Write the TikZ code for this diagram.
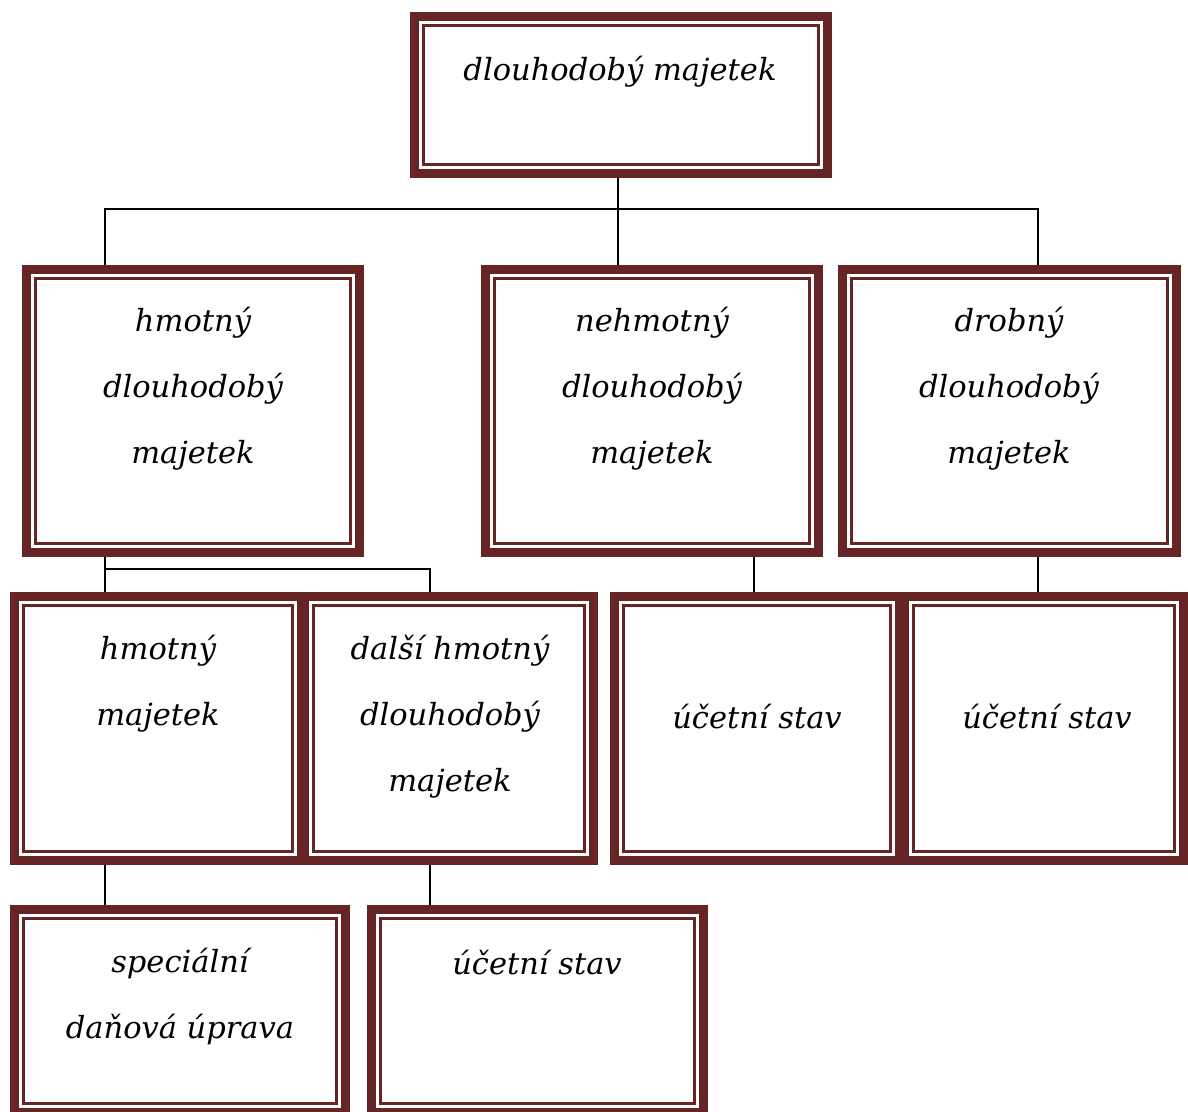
\documentclass[tikz,border=0pt]{standalone}
\usepackage{fontspec}
\setmainfont{DejaVu Serif}
\definecolor{boxred}{RGB}{102,36,36}
\begin{document}
\begin{tikzpicture}[x=1pt,y=-1pt,
  orgbox/.style={draw=boxred, line width=9pt, fill=white, rectangle, inner sep=0pt,
    path picture={\draw[boxred, line width=3pt]
      ([shift={(9pt,-9pt)}]path picture bounding box.north west) rectangle
      ([shift={(-9pt,9pt)}]path picture bounding box.south east);}},
  lbl/.style={font=\fontsize{30.5}{66}\selectfont\itshape, align=center, text=black},
  conn/.style={draw=black, line width=1.4pt}]
\useasboundingbox (0,0) rectangle (1188,1111);
\fill[white] (0,0) rectangle (1188,1111);
% junction coordinates
\coordinate (m1) at (618,209);
\coordinate (h1) at (105,209);
\coordinate (h2) at (1038,209);
\coordinate (c1) at (105,569);
\coordinate (c2) at (430,569);
\coordinate (d1) at (754,575);
\coordinate (d2) at (1038,575);
\coordinate (e1) at (105,885);
\coordinate (e2) at (430,885);
% boxes (placed first invisibly for names)
\path (621,95) node[minimum width=413pt, minimum height=157pt] (b1) {};
\path (193,411) node[minimum width=333pt, minimum height=283pt] (b2) {};
\path (652,411) node[minimum width=333pt, minimum height=283pt] (b3) {};
\path (1009.5,411) node[minimum width=334pt, minimum height=283pt] (b4) {};
\path (158,728.5) node[minimum width=287pt, minimum height=264pt] (b5) {};
\path (449,728.5) node[minimum width=289pt, minimum height=264pt] (b6) {};
\path (757,728.5) node[minimum width=285pt, minimum height=264pt] (b7) {};
\path (1044,728.5) node[minimum width=279pt, minimum height=264pt] (b8) {};
\path (180,1011) node[minimum width=331pt, minimum height=203pt] (b9) {};
\path (537.5,1011) node[minimum width=332pt, minimum height=203pt] (b10) {};
% connectors
\draw[conn] (m1 |- b1.south) -- (m1 |- b3.north);
\draw[conn] (h1 |- b2.north) -- (h1) -- (h2) -- (h2 |- b4.north);
\draw[conn] (c1 |- b2.south) -- (c1 |- b5.north);
\draw[conn] (c1) -- (c2) -- (c2 |- b6.north);
\draw[conn] (d1 |- b3.south) -- (d1 |- b7.north);
\draw[conn] (d2 |- b4.south) -- (d2 |- b8.north);
\draw[conn] (e1 |- b5.south) -- (e1 |- b9.north);
\draw[conn] (e2 |- b6.south) -- (e2 |- b10.north);
% visible boxes
\foreach \n/\w/\h in {b1/413/157, b2/333/283, b3/333/283, b4/334/283, b5/287/264, b6/289/264, b7/285/264, b8/279/264, b9/331/203, b10/332/203}
  \node[orgbox, minimum width=\w pt, minimum height=\h pt] at (\n) {};
% texts
\node[lbl] (t1) at (620,72) {dlouhodobý majetek};
\node[lbl] (t2) at (193,389) {hmotný\\dlouhodobý\\majetek};
\node[lbl] (t3) at (652,389) {nehmotný\\dlouhodobý\\majetek};
\node[lbl] (t4) at (1009,389) {drobný\\dlouhodobý\\majetek};
\node[lbl] (t5) at (158,684) {hmotný\\majetek};
\node[lbl] (t6) at (450,717) {další hmotný\\dlouhodobý\\majetek};
\node[lbl] (t7) at (757,717) {účetní stav};
\node[lbl] (t8) at (1047,717) {účetní stav};
\node[lbl] (t9) at (180,996) {speciální\\daňová úprava};
\node[lbl] (t10) at (537,963) {účetní stav};
\end{tikzpicture}
\end{document}
